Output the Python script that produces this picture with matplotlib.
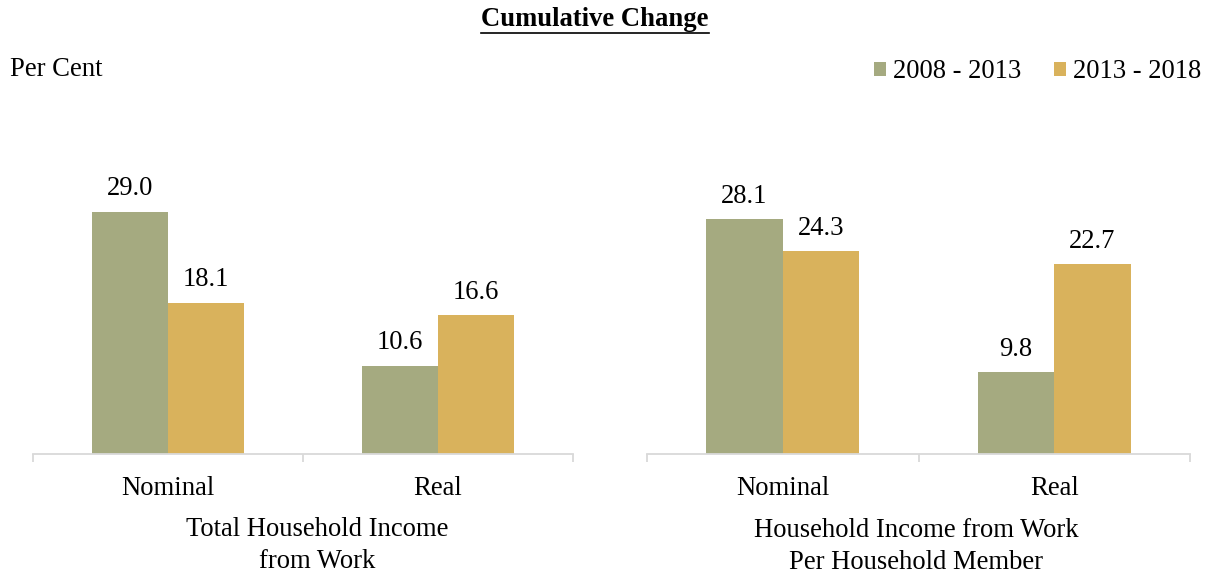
import matplotlib.pyplot as plt
import numpy as np

categories = ["Nominal", "Real"]
series_names = ["2008 - 2013", "2013 - 2018"]
left_2008_2013 = [29.0, 10.6]
left_2013_2018 = [18.1, 16.6]
right_2008_2013 = [28.1, 9.8]
right_2013_2018 = [24.3, 22.7]
panel_titles = ["Total Household Income\nfrom Work", "Household Income from Work\nPer Household Member"]

colors = ["#A5AA80", "#D9B25C"]
plt.rcParams['font.family'] = ['Liberation Serif', 'DejaVu Serif']
FS = 19.2

fig = plt.figure(figsize=(12.16, 5.76), dpi=100)
W, H = 1216, 576

def make_axes(x0, x1):
    bottom = (H - 454) / H
    height = 354 / H
    return fig.add_axes([x0 / W, bottom, (x1 - x0) / W, height])

axes = [make_axes(33, 573), make_axes(647, 1190)]
data = [(left_2008_2013, left_2013_2018), (right_2008_2013, right_2013_2018)]
bw = 0.2815
x = np.arange(len(categories))

for ax, (s1, s2) in zip(axes, data):
    b1 = ax.bar(x - bw / 2, s1, bw, color=colors[0], label=series_names[0])
    b2 = ax.bar(x + bw / 2, s2, bw, color=colors[1], label=series_names[1])
    for bars in (b1, b2):
        for r in bars:
            ax.annotate(f"{r.get_height():.1f}", (r.get_x() + r.get_width() / 2, r.get_height()),
                        xytext=(0, 7.5), textcoords="offset points", ha="center", va="bottom",
                        fontsize=FS)
    ax.set_xlim(-0.5, 1.5)
    ax.set_ylim(0, 42.4)
    for s in ("top", "right", "left"):
        ax.spines[s].set_visible(False)
    ax.spines["bottom"].set_color("#d9d9d9")
    ax.spines["bottom"].set_linewidth(1.3)
    ax.set_yticks([])
    ax.set_xticks(x)
    ax.set_xticklabels(categories, fontsize=FS)
    ax.tick_params(axis="x", which="major", length=0, pad=16)
    ax.set_xticks([-0.5, 0.5, 1.5], minor=True)
    ax.tick_params(axis="x", which="minor", length=6, width=1.3, color="#d9d9d9", direction="out")

fig.text(317 / W, 1 - 545.5 / H, panel_titles[0], ha="center", va="center", fontsize=FS, linespacing=1.32)
fig.text(916 / W, 1 - 546.5 / H, panel_titles[1], ha="center", va="center", fontsize=FS, linespacing=1.32)

fig.text(595 / W, 1 - 20 / H, "Cumulative Change", ha="center", va="center", fontsize=FS,
         fontweight="bold")
# underline
fig.add_artist(plt.Line2D([481 / W, 709 / W], [1 - 33 / H, 1 - 33 / H], color="black", lw=1.2))

fig.text(10 / W, 1 - 70 / H, "Per Cent", ha="left", va="center", fontsize=FS)

handles, labels = axes[0].get_legend_handles_labels()
fig.legend(handles, labels, loc="center right", bbox_to_anchor=(1201 / W, 1 - 72 / H), ncol=2,
           frameon=False, fontsize=FS, handlelength=0.45, handleheight=0.45, handletextpad=0.27,
           columnspacing=1.2, borderaxespad=0, borderpad=0)

fig.savefig("out.png", dpi=100)
